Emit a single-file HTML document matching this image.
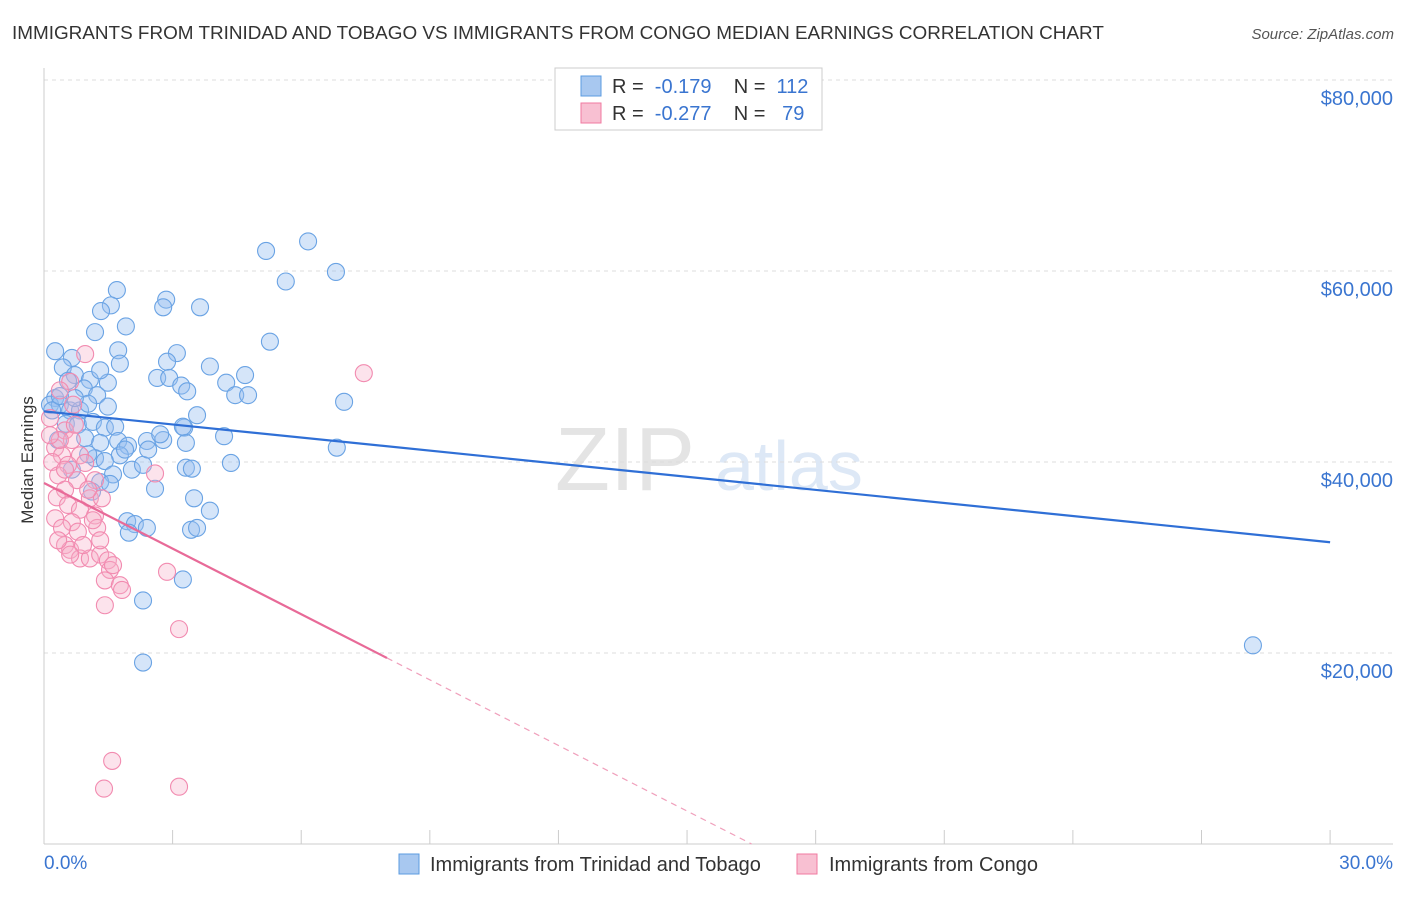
<!DOCTYPE html>
<html><head><meta charset="utf-8"><style>
body{margin:0;background:#fff;font-family:"Liberation Sans",sans-serif;}
svg text{font-family:"Liberation Sans",sans-serif;white-space:pre;}
</style></head><body>
<svg id="chart" width="1406" height="892" xmlns="http://www.w3.org/2000/svg">
<text x="12" y="39" font-size="18.9" fill="#333">IMMIGRANTS FROM TRINIDAD AND TOBAGO VS IMMIGRANTS FROM CONGO MEDIAN EARNINGS CORRELATION CHART</text>
<text x="1394" y="39" font-size="15" fill="#555" font-style="italic" text-anchor="end">Source: ZipAtlas.com</text>
<text x="555" y="490" font-size="90" fill="#e4e4e4" font-family="Liberation Serif">ZIP</text>
<text x="715" y="490" font-size="70" fill="#dde8f6">atlas</text>
<text transform="translate(33,460) rotate(-90)" font-size="17" fill="#333" text-anchor="middle">Median Earnings</text>
<g id="grid"></g><g id="marks"></g>
<g>
<rect x="555" y="68" width="267" height="62" fill="#fff" stroke="#ccc"/>
<rect x="581" y="76" width="20" height="20" fill="#a8c8f0" stroke="#5b9be0"/>
<rect x="581" y="103" width="20" height="20" fill="#f8c0d2" stroke="#f07aa0"/>
<text x="612" y="93" font-size="20" fill="#333" xml:space="preserve">R =  <tspan fill="#3a75d0">-0.179</tspan>    N =  <tspan fill="#3a75d0">112</tspan></text>
<text x="612" y="120" font-size="20" fill="#333" xml:space="preserve">R =  <tspan fill="#3a75d0">-0.277</tspan>    N =   <tspan fill="#3a75d0">79</tspan></text>
</g>
<g>
<rect x="399" y="854" width="20" height="20" fill="#a8c8f0" stroke="#5b9be0"/>
<text x="430" y="871" font-size="20" fill="#333">Immigrants from Trinidad and Tobago</text>
<rect x="797" y="854" width="20" height="20" fill="#f8c0d2" stroke="#f07aa0"/>
<text x="829" y="871" font-size="20" fill="#333">Immigrants from Congo</text>
</g>
</svg>
<script>
const yTicks=[20000,40000,60000,80000];
const yTickLabels=["$20,000","$40,000","$60,000","$80,000"];
const xTickLabels=["0.0%","30.0%"];
const bluePct=[0.26,0.65,0.44,0.72,0.56,1.07,0.93,1.24,0.26,0.14,0.37,0.61,0.84,1.03,0.19,0.51,0.79,1.14,1.42,1.66,0.33,0.96,1.31,1.73,1.96,2.40,2.78,3.27,1.77,1.89,1.19,1.42,2.05,2.31,1.61,1.31,1.54,1.12,2.59,1.94,2.12,2.40,1.98,3.31,3.31,3.45,3.50,3.43,3.57,3.87,3.24,2.31,2.31,1.70,1.56,1.33,1.91,1.19,1.73,1.77,1.49,2.85,2.78,3.64,3.10,2.87,2.64,2.92,3.20,3.34,3.87,4.25,4.69,4.46,4.76,3.57,3.24,4.20,4.36,5.18,5.64,6.16,6.81,5.27,7.00,6.83,28.2,2.71,2.43,1.49,0.72,0.37,1.03,0.65,1.31];
const blueK=[51.6,50.9,49.9,49.1,48.5,48.6,47.7,47.0,46.7,46.0,46.0,45.4,45.4,46.1,45.4,44.0,43.9,44.2,43.6,43.7,42.3,42.5,42.0,42.2,41.7,42.2,42.3,43.6,40.7,41.3,40.4,40.1,39.2,39.7,38.7,37.9,37.7,36.9,37.2,33.8,33.5,33.1,32.6,42.0,39.4,39.3,36.2,32.9,33.1,34.9,27.7,25.5,19.0,58.0,56.4,55.8,54.2,53.6,51.7,50.3,48.3,57.0,56.2,56.2,51.4,50.5,48.8,48.8,48.0,47.4,50.0,48.3,49.1,47.0,47.0,44.9,43.7,42.7,39.9,62.1,58.9,63.1,59.9,52.6,46.3,41.5,20.8,42.9,41.3,45.8,46.7,46.9,40.8,39.2,49.6];
const pinkPct=[0.96,0.61,0.37,0.68,0.14,0.49,0.65,0.26,0.42,0.84,0.19,0.56,0.96,0.33,0.77,1.19,0.49,0.30,1.07,1.35,0.56,0.84,1.19,0.26,0.65,0.42,0.79,1.24,0.49,0.61,0.84,1.07,1.31,1.49,1.54,1.42,1.77,1.82,1.42,2.59,2.87,3.15,7.46,1.59,1.40,3.15,0.37,0.72,0.14,0.49,1.03,1.14,0.33,1.31,0.91,0.61,1.61];
const pinkK=[51.3,48.4,47.5,46.0,44.6,43.3,42.3,41.5,40.7,40.7,40.0,39.7,39.9,38.6,38.1,38.1,37.1,36.3,36.2,36.2,35.5,35.0,34.4,34.1,33.7,33.1,32.7,33.1,31.3,30.8,29.9,29.9,30.3,29.7,28.7,27.6,27.1,26.6,25.0,38.8,28.5,22.5,49.3,8.7,5.8,6.0,42.3,43.9,42.8,39.2,37.1,33.9,31.8,31.8,31.3,30.3,29.2];
const blueTrend=[45.3,31.6];
const pinkTrend=[37.8,-2.29];
const pinkSolidEnd=8.0;
const NS="http://www.w3.org/2000/svg";
const X=p=>44+p*42.87, Y=k=>844-k*9.55;
function el(t,a,p){const e=document.createElementNS(NS,t);for(const k in a)e.setAttribute(k,a[k]);p.appendChild(e);return e;}
const g=document.getElementById('grid'), m=document.getElementById('marks');
yTicks.forEach((v,i)=>{
  const l=el('line',{x1:44,x2:1393,y1:Y(v/1000),y2:Y(v/1000),stroke:'#ddd','stroke-dasharray':'4,4'},g);
  
  
  const t=el('text',{x:1393,y:Y(v/1000)+25,'font-size':20,fill:'#3a75d0','text-anchor':'end'},g);
  t.textContent=yTickLabels[i];
  
  
});
el('line',{x1:44,x2:44,y1:68,y2:844,stroke:'#ccc'},g);
el('line',{x1:44,x2:1393,y1:844,y2:844,stroke:'#ccc'},g);
for(let i=0;i<=10;i++){const t=el('line',{x1:X(i*3),x2:X(i*3),y1:830,y2:844,stroke:'#ccc'},g);
  
  }
[[0,'start',44],[1,'end',1393]].forEach(([i,a,x])=>{const t=el('text',{x:x,y:869,'font-size':19,fill:'#3a75d0','text-anchor':a},g);t.textContent=xTickLabels[i];
  
  });
bluePct.forEach((p,i)=>{const c=el('circle',{cx:X(p),cy:Y(blueK[i]),r:8.5,fill:'rgba(150,190,240,0.4)',stroke:'#6aa3e4','stroke-width':1.1},m);
  
  });
pinkPct.forEach((p,i)=>{const c=el('circle',{cx:X(p),cy:Y(pinkK[i]),r:8.5,fill:'rgba(245,175,200,0.35)',stroke:'#f28bb0','stroke-width':1.1},m);
  
  });
const bl=el('line',{x1:X(0),y1:Y(blueTrend[0]),x2:X(30),y2:Y(blueTrend[1]),stroke:'#2f6fd6','stroke-width':2.2},m);


const pz=-pinkTrend[0]/pinkTrend[1];
const pl=el('line',{x1:X(0),y1:Y(pinkTrend[0]),x2:X(pinkSolidEnd),y2:Y(pinkTrend[0]+pinkTrend[1]*pinkSolidEnd),stroke:'#e86a98','stroke-width':2.2},m);


const pd=el('line',{x1:X(pinkSolidEnd),y1:Y(pinkTrend[0]+pinkTrend[1]*pinkSolidEnd),x2:X(pz),y2:Y(0),stroke:'#f0a0bc','stroke-width':1.2,'stroke-dasharray':'6,5'},m);


</script>
</body></html>
